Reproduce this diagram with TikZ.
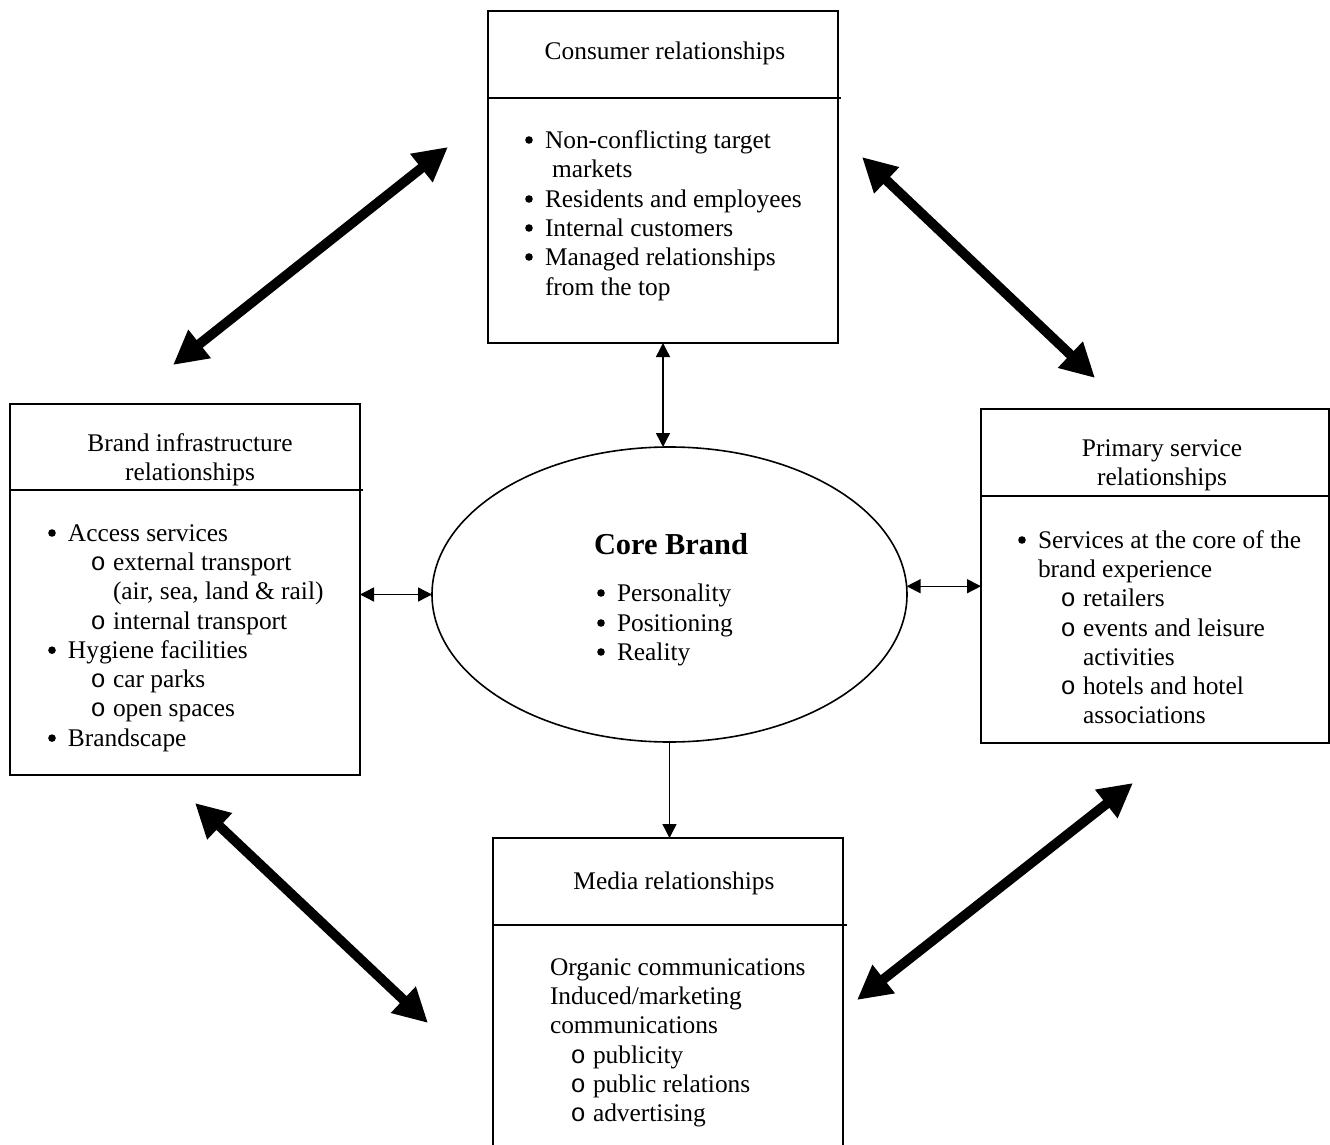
\documentclass[tikz,border=0pt]{standalone}
\usepackage{fontspec}
\setmainfont{Liberation Serif}
\newfontfamily\obul{Liberation Mono}
\usetikzlibrary{arrows.meta,shapes.geometric}
\newcommand\ol{\llap{{\obul o}\hspace{3.6pt}}}
\begin{document}
\begin{tikzpicture}[x=0.5pt,y=-0.5pt,
  box/.style={draw, line width=0.8pt, anchor=north west, inner sep=0pt, outer sep=0pt},
  divline/.style={line width=0.8pt},
  txt/.style={inner sep=0pt, outer sep=0pt, anchor=mid west, yshift=-1.8pt, font=\fontsize{12.7}{14.65}\selectfont},
  ttl/.style={inner sep=0pt, outer sep=0pt, anchor=mid, yshift=-1.8pt, font=\fontsize{12.7}{14.65}\selectfont},
  smallarrow/.style={line width=0.7pt, {Triangle[length=7pt,width=7pt]}-{Triangle[length=7pt,width=7pt]}},
  onearrow/.style={line width=0.7pt, -{Triangle[length=7pt,width=7pt]}},
  bigarrow/.style={line width=4.9pt, {Triangle[length=17pt,width=17pt]}-{Triangle[length=17pt,width=17pt]}}
]
\useasboundingbox (0,0) rectangle (1330,1145);

% boxes
\node[box, minimum width=175pt, minimum height=166pt] (cons) at (488,11) {};
\draw[divline] (488,98) -- (841,98);
\node[box, minimum width=175pt, minimum height=185.5pt] (brand) at (10,404) {};
\draw[divline] (10,490) -- (363,490);
\node[box, minimum width=174pt, minimum height=167pt] (prim) at (981,409) {};
\draw[divline] (981,496) -- (1330,496);
\node[box, draw=none, minimum width=175pt, minimum height=155pt] (media) at (493,838) {};
\draw[divline] (media.south west) -- (media.north west) -- (media.north east) -- (media.south east);
\draw[divline] (493,925) -- (847,925);

% core ellipse
\node[draw, ellipse, line width=0.8pt, minimum width=237.5pt, minimum height=147.5pt, inner sep=0pt, outer sep=0pt] (core) at (669.5,594.5) {};
\node[inner sep=0pt, anchor=mid, yshift=-1.8pt, font=\fontsize{15.2}{18}\selectfont\bfseries] (coret) at (671,546) {Core Brand};
\node[txt] (cb1) at (617,593) {Personality};
\node[txt] (cb2) at (617,623) {Positioning};
\node[txt] (cb3) at (617,652) {Reality};

% consumer relationships
\node[ttl] (ct) at (665,51) {Consumer relationships};
\node[txt] (c1) at (545,140) {Non-conflicting target};
\node[txt] (c2) at (552,169) {markets};
\node[txt] (c3) at (545,199) {Residents and employees};
\node[txt] (c4) at (545,228) {Internal customers};
\node[txt] (c5) at (545,257) {Managed relationships};
\node[txt] (c6) at (545,287) {from the top};

% brand infrastructure
\node[ttl] (bt1) at (190,443) {Brand infrastructure};
\node[ttl] (bt2) at (190,472) {relationships};
\node[txt] (b1) at (68,533) {Access services};
\node[txt] (b2) at (113,562.3) {\ol external transport};
\node[txt] (b3) at (113,591.6) {(air, sea, land \& rail)};
\node[txt] (b4) at (113,620.9) {\ol internal transport};
\node[txt] (b5) at (68,650.2) {Hygiene facilities};
\node[txt] (b6) at (113,679.5) {\ol car parks};
\node[txt] (b7) at (113,708.8) {\ol open spaces};
\node[txt] (b8) at (68,738.1) {Brandscape};

% primary service
\node[ttl] (pt1) at (1162,448) {Primary service};
\node[ttl] (pt2) at (1162,477) {relationships};
\node[txt] (p1) at (1038,540) {Services at the core of the};
\node[txt] (p2) at (1038,569.3) {brand experience};
\node[txt] (p3) at (1083,598.6) {\ol retailers};
\node[txt] (p4) at (1083,627.9) {\ol events and leisure};
\node[txt] (p5) at (1083,657.2) {activities};
\node[txt] (p6) at (1083,686.5) {\ol hotels and hotel};
\node[txt] (p7) at (1083,715.8) {associations};

% media
\node[ttl] (mt) at (674,881) {Media relationships};
\node[txt] (m1) at (550,967) {Organic communications};
\node[txt] (m2) at (550,996.3) {Induced/marketing};
\node[txt] (m3) at (550,1025.6) {communications};
\node[txt] (m4) at (593,1054.9) {\ol publicity};
\node[txt] (m5) at (593,1084.2) {\ol public relations};
\node[txt] (m6) at (593,1113.5) {\ol advertising};

% bullets
\foreach \n in {cb1,cb2,cb3,c1,c3,c4,c5,b1,b5,b8,p1}
  \fill (\n.mid west) ++(-16,-3.6) circle (1.9pt);

% small connectors
\draw[smallarrow] (cons.south) -- (cons.south |- core.north);
\draw[smallarrow] (core.west -| brand.east) -- (core.west);
\draw[smallarrow] (core.2.8) -- (core.2.8 -| prim.west);
\draw[onearrow] (core.south) -- (core.south |- media.north);

% big arrows
\coordinate (a1s) at (173,365); \coordinate (a1e) at (448,147);
\coordinate (a2s) at (862,157); \coordinate (a2e) at (1095,378);
\coordinate (a3s) at (195,803); \coordinate (a3e) at (428,1023);
\coordinate (a4s) at (857,1000); \coordinate (a4e) at (1133,783);
\draw[bigarrow] (a1s) -- (a1e);
\draw[bigarrow] (a2s) -- (a2e);
\draw[bigarrow] (a3s) -- (a3e);
\draw[bigarrow] (a4s) -- (a4e);
\end{tikzpicture}
\end{document}
